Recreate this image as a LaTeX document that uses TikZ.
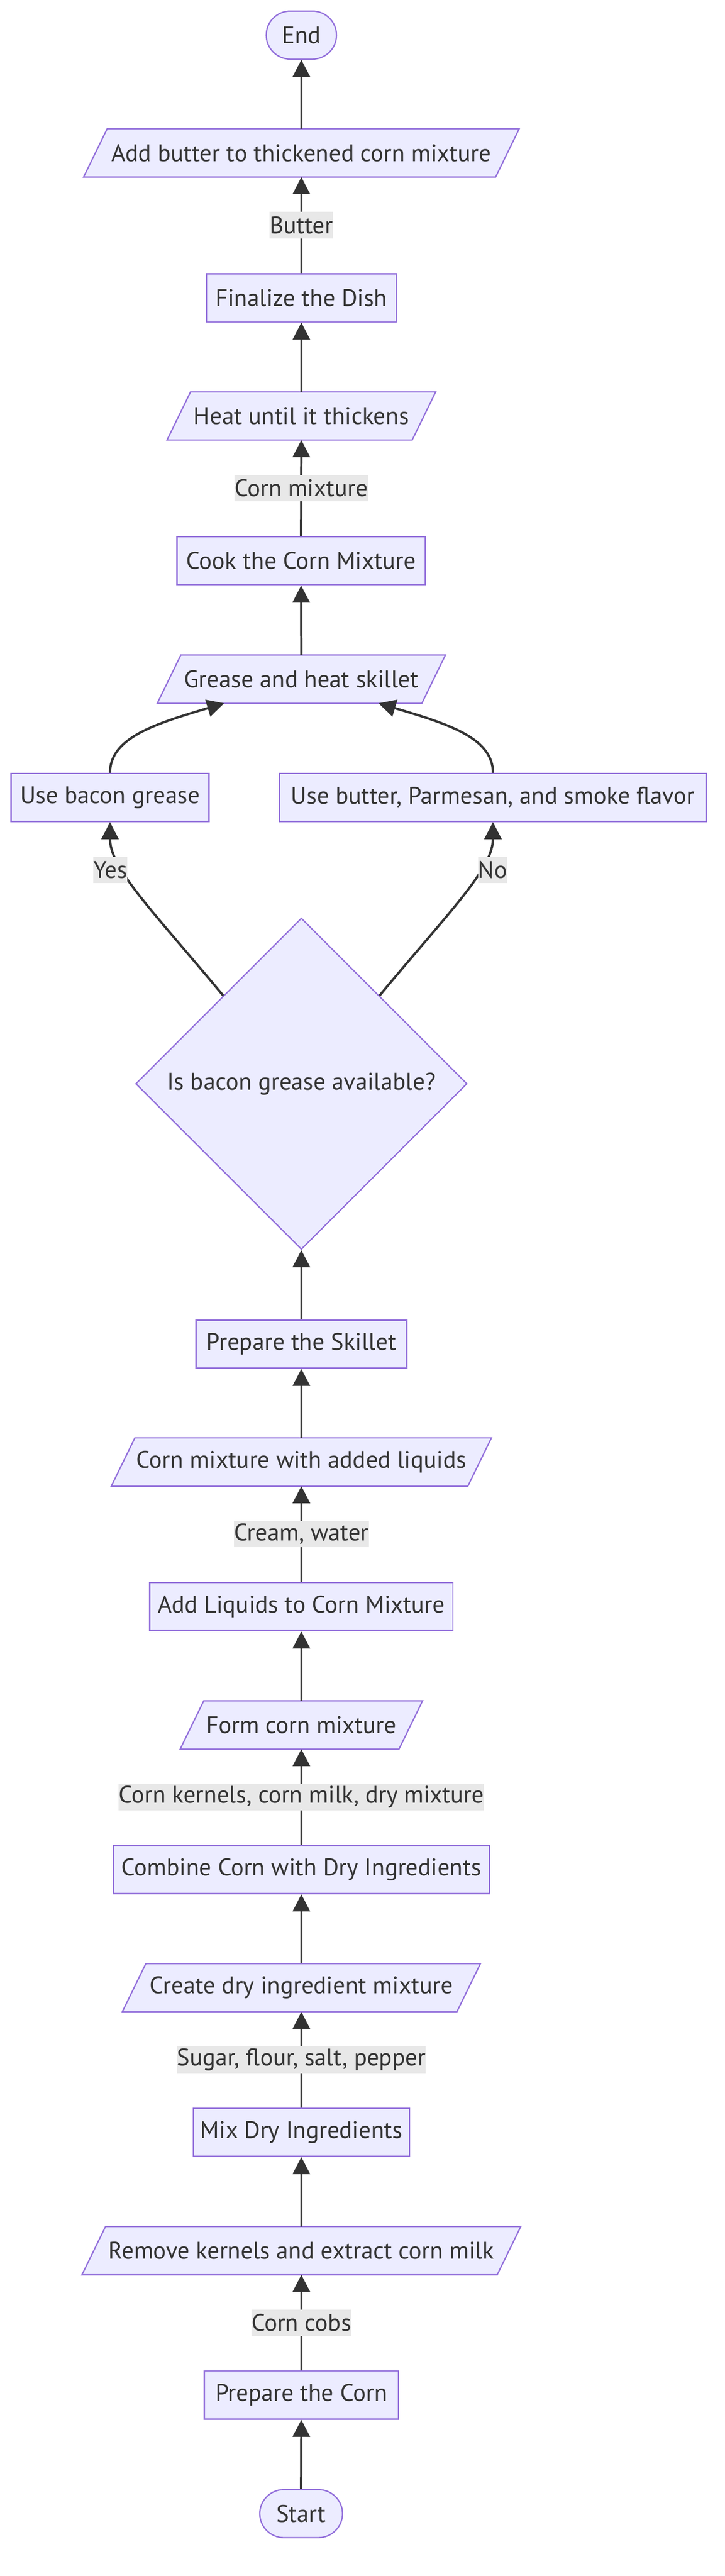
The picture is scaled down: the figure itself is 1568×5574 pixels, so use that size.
\documentclass[tikz,border=0pt]{standalone}
\usepackage{fontspec}
\setmainfont{PT Sans}
\usetikzlibrary{shapes.geometric,arrows.meta,calc,backgrounds}
\definecolor{nodefill}{HTML}{ECECFF}
\definecolor{nodeline}{HTML}{9370DB}
\definecolor{ink}{HTML}{333333}
\definecolor{lblbg}{HTML}{E8E8E8}
\newcommand{\mypara}[1]{\draw[para] ($(#1.south west)+(-25.5,0)$) -- ($(#1.south east)+(-25.5,0)$) -- ($(#1.north east)+(25.5,0)$) -- ($(#1.north west)+(25.5,0)$) -- cycle;}
\begin{document}
\begin{tikzpicture}[x=1pt,y=-1pt,
  every node/.style={text=ink},
  txt/.style={font=\fontsize{52}{60}\selectfont},
  box/.style={txt, draw=nodeline, fill=nodefill, line width=2.8pt, inner sep=0pt, minimum height=104pt},
  term/.style={box, rounded corners=52pt},
  paratxt/.style={txt, inner sep=0pt, minimum height=104pt},
  para/.style={draw=nodeline, fill=nodefill, line width=2.8pt},
  dec/.style={txt, diamond, draw=nodeline, fill=nodefill, line width=2.8pt, inner sep=0pt, minimum width=717pt, minimum height=717pt},
  lbl/.style={txt, fill=lblbg, inner xsep=0pt, inner ysep=0pt, minimum height=57pt},
  flow/.style={draw=ink, line width=5pt, -{Triangle[length=37pt,width=37pt]}},
]
\useasboundingbox (0,0) rectangle (1568,5574);

% nodes
\node[term, minimum width=152pt] (endn) at (652,76) {End};
\node[paratxt, minimum width=891pt] (addbutter) at (652,331) {Add butter to thickened corn mixture};
\node[box, minimum width=410pt] (finalize) at (652,644.5) {Finalize the Dish};
\node[paratxt, minimum width=530pt] (heat) at (652,900) {Heat until it thickens};
\node[box, minimum width=537pt] (cook) at (651.5,1213.5) {Cook the Corn Mixture};
\node[paratxt, minimum width=572pt] (grease) at (652,1469.5) {Grease and heat skillet};
\node[box, minimum width=428pt] (bacon) at (238,1725.5) {Use bacon grease};
\node[box, minimum width=923pt] (butterp) at (1066.5,1725.5) {Use butter, Parmesan, and smoke flavor};
\node[dec] (dia) at (652,2345) {Is bacon grease available?};
\node[box, minimum width=456pt] (pskillet) at (652,2908.5) {Prepare the Skillet};
\node[paratxt, minimum width=771pt] (cornliq) at (652,3163.5) {Corn mixture with added liquids};
\node[box, minimum width=656pt] (addliq) at (652,3476.5) {Add Liquids to Corn Mixture};
\node[paratxt, minimum width=473pt] (form) at (652,3732.5) {Form corn mixture};
\node[box, minimum width=814pt] (combine) at (652,4045.5) {Combine Corn with Dry Ingredients};
\node[paratxt, minimum width=723.5pt] (createdry) at (652,4301) {Create dry ingredient mixture};
\node[box, minimum width=468pt] (mixdry) at (652,4614) {Mix Dry Ingredients};
\node[paratxt, minimum width=898pt] (remove) at (652,4870) {Remove kernels and extract corn milk};
\node[box, minimum width=420pt] (pcorn) at (652,5182.5) {Prepare the Corn};
\node[term, minimum width=179pt] (startn) at (651.5,5439) {Start};

\begin{pgfonlayer}{background}
\mypara{addbutter}
\mypara{heat}
\mypara{grease}
\mypara{cornliq}
\mypara{form}
\mypara{createdry}
\mypara{remove}
\end{pgfonlayer}

% connectors
\draw[flow] (startn.north) -- (pcorn.south);
\draw[flow] (pcorn.north) -- node[lbl]{Corn cobs} (remove.south);
\draw[flow] (remove.north) -- (mixdry.south);
\draw[flow] (mixdry.north) -- node[lbl]{Sugar, flour, salt, pepper} (createdry.south);
\draw[flow] (createdry.north) -- (combine.south);
\draw[flow] (combine.north) -- node[lbl]{Corn kernels, corn milk, dry mixture} (form.south);
\draw[flow] (form.north) -- (addliq.south);
\draw[flow] (addliq.north) -- node[lbl]{Cream, water} (cornliq.south);
\draw[flow] (cornliq.north) -- (pskillet.south);
\draw[flow] (pskillet.north) -- (dia.south);
\draw[flow] ($(dia.north)!0.47!(dia.west)$) .. controls (330,1970) and (238,1880) .. node[lbl, pos=0.66, xshift=-30pt]{Yes} (bacon.south);
\draw[flow] ($(dia.north)!0.47!(dia.east)$) .. controls (974,1970) and (1066.5,1880) .. node[lbl, pos=0.66, xshift=30pt]{No} (butterp.south);
\draw[flow] (bacon.north) .. controls (238,1595) and (340,1565) .. ([xshift=-167pt]grease.south);
\draw[flow] (butterp.north) .. controls (1066.5,1595) and (964,1565) .. ([xshift=167pt]grease.south);
\draw[flow] (grease.north) -- (cook.south);
\draw[flow] (cook.north) -- node[lbl]{Corn mixture} (heat.south);
\draw[flow] (heat.north) -- (finalize.south);
\draw[flow] (finalize.north) -- node[lbl]{Butter} (addbutter.south);
\draw[flow] (addbutter.north) -- (endn.south);
\end{tikzpicture}
\end{document}
